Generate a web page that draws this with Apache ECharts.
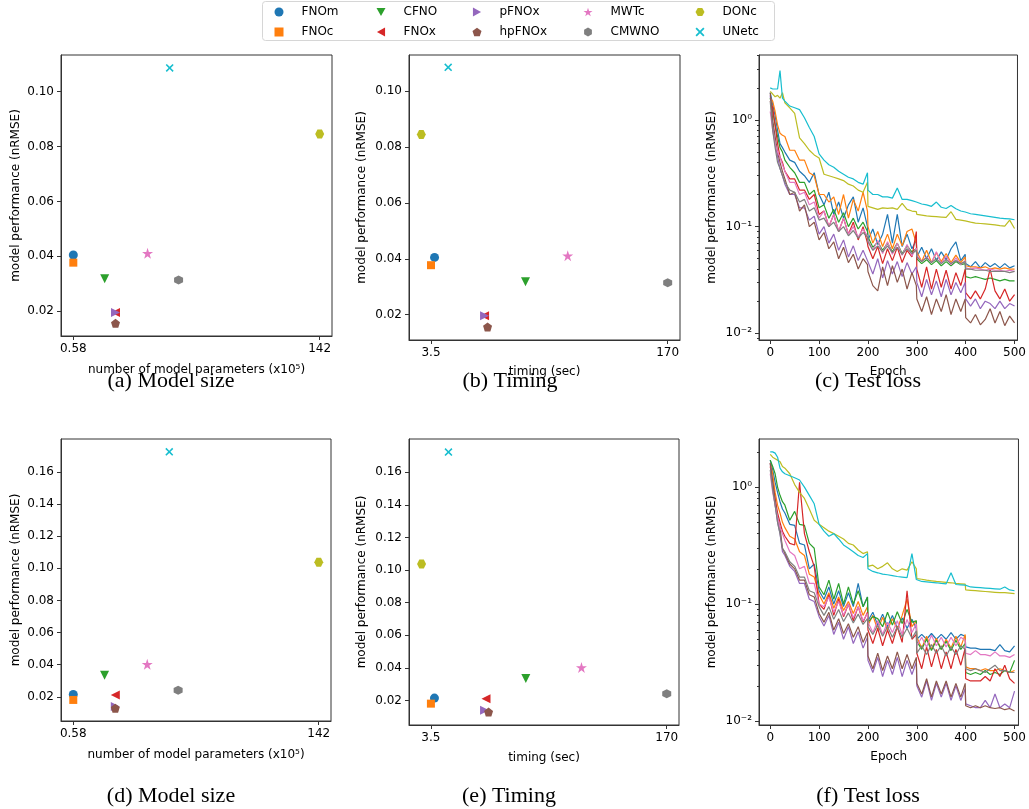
<!DOCTYPE html>
<html>
<head>
<meta charset="utf-8">
<script src="https://cdn.jsdelivr.net/npm/echarts@6/dist/echarts.min.js"></script>
<style>html,body{margin:0;background:#fff}#main{width:1029px;height:809px}</style>
</head>
<body>
<div id="main"></div>
<script>
// models and colours (matplotlib tab10)
const models = ['FNOm', 'FNOc', 'CFNO', 'FNOx', 'pFNOx', 'hpFNOx', 'MWTc', 'CMWNO', 'DONc', 'UNetc'];
const colors = ['#1f77b4', '#ff7f0e', '#2ca02c', '#d62728', '#9467bd', '#8c564b', '#e377c2', '#7f7f7f', '#bcbd22', '#17becf'];

// top row: params (x1e5), timing (sec), nRMSE
const params1 = [0.58, 0.58, 18.6, 24.8, 24.8, 24.8, 43.2, 61.0, 142, 55.9];
const timing1 = [6.0, 3.5, 70.0, 41.2, 41.2, 43.3, 99.7, 170, -3.3, 15.6];
const nrmse1 = [0.0405, 0.0377, 0.0318, 0.0196, 0.0196, 0.0156, 0.0411, 0.0314, 0.0845, 0.1086];
// bottom row
const params2 = [0.58, 0.58, 18.6, 24.8, 24.8, 24.8, 43.2, 61.0, 142, 55.9];
const timing2 = [6.0, 3.5, 70.5, 42.4, 41.4, 44.2, 109.8, 170, -3.1, 15.9];
const nrmse2 = [0.0215, 0.0181, 0.0335, 0.0211, 0.0140, 0.0130, 0.0403, 0.0242, 0.1037, 0.1724];

// tick labels
const paramTicks = [0.58, 142];
const timingTicks = [3.5, 170];
const yTicks1 = [0.02, 0.04, 0.06, 0.08, 0.10];
const yTicks2 = [0.02, 0.04, 0.06, 0.08, 0.10, 0.12, 0.14, 0.16];
const epochTicks = [0, 100, 200, 300, 400, 500];
const logMajor = [0.01, 0.1, 1];
const logMinor = [0.009, 0.02, 0.03, 0.04, 0.05, 0.06, 0.07, 0.08, 0.09, 0.2, 0.3, 0.4, 0.5, 0.6, 0.7, 0.8, 0.9, 2, 3, 4];

// test loss curves, sampled epochs
const epochs = [0,5,10,15,20,25, 30,40,50,60,70,80,90,100,110,120,130,140,150,160,170,180,190, 199,
  200,210,220,230,240,250,260,270,280,290, 299, 300,310,320,330,340,350,360,370,380,390, 399,
  400,410,420,430,440,450,460,470,480,490,500];

// (c)
const c_FNOm = [1.8,1.4,1.1,0.8,0.6,0.55, 0.5,0.42,0.4,0.33,0.3,0.26,0.32,0.2,0.16,0.21,0.13,0.17,0.12,0.16,0.19,0.11,0.15, 0.1,
  0.075,0.095,0.068,0.085,0.13,0.07,0.13,0.065,0.085,0.062, 0.075, 0.052,0.064,0.05,0.062,0.048,0.058,0.049,0.062,0.072,0.048, 0.055,
  0.045,0.042,0.047,0.041,0.046,0.042,0.045,0.041,0.045,0.041,0.043];
const c_FNOc = [1.6,1.5,1.2,0.9,0.75,0.72, 0.7,0.52,0.52,0.42,0.42,0.32,0.3,0.2,0.2,0.17,0.19,0.13,0.2,0.12,0.18,0.14,0.21, 0.14,
  0.1,0.07,0.09,0.065,0.085,0.062,0.085,0.066,0.09,0.095, 0.07, 0.058,0.047,0.06,0.046,0.057,0.047,0.056,0.046,0.054,0.046, 0.052,
  0.043,0.042,0.042,0.041,0.042,0.04,0.041,0.04,0.041,0.04,0.04];
const c_CFNO = [1.6,1.2,0.9,0.7,0.55,0.5, 0.42,0.36,0.32,0.26,0.26,0.2,0.22,0.15,0.16,0.12,0.145,0.11,0.135,0.1,0.12,0.095,0.11, 0.09,
  0.08,0.064,0.072,0.06,0.07,0.058,0.07,0.056,0.066,0.058, 0.062, 0.05,0.045,0.049,0.044,0.048,0.043,0.047,0.043,0.047,0.044, 0.045,
  0.034,0.033,0.034,0.033,0.032,0.033,0.032,0.031,0.032,0.031,0.031];
const c_FNOx = [1.5,1.3,0.9,0.6,0.45,0.4, 0.33,0.28,0.28,0.22,0.22,0.18,0.2,0.13,0.14,0.1,0.13,0.09,0.12,0.085,0.11,0.075,0.1, 0.07,
  0.065,0.05,0.065,0.045,0.062,0.048,0.064,0.046,0.06,0.052, 0.09, 0.04,0.027,0.042,0.026,0.04,0.027,0.039,0.026,0.037,0.028, 0.04,
  0.024,0.021,0.025,0.021,0.026,0.04,0.025,0.021,0.026,0.02,0.023];
const c_pFNOx = [1.7,0.9,0.6,0.45,0.35,0.3, 0.25,0.2,0.2,0.15,0.15,0.115,0.125,0.085,0.1,0.07,0.085,0.06,0.075,0.052,0.066,0.048,0.06, 0.048,
  0.046,0.036,0.05,0.033,0.048,0.036,0.047,0.034,0.046,0.036, 0.042, 0.03,0.022,0.032,0.023,0.031,0.022,0.032,0.023,0.03,0.024, 0.03,
  0.021,0.018,0.021,0.017,0.02,0.019,0.017,0.02,0.017,0.019,0.018];
const c_hpFNOx = [1.8,1.0,0.7,0.5,0.4,0.33, 0.28,0.2,0.21,0.14,0.16,0.1,0.11,0.075,0.088,0.062,0.072,0.05,0.064,0.046,0.055,0.04,0.05, 0.044,
  0.038,0.028,0.025,0.042,0.028,0.043,0.03,0.04,0.026,0.037, 0.028, 0.021,0.016,0.022,0.015,0.021,0.016,0.023,0.015,0.021,0.016, 0.021,
  0.014,0.0125,0.015,0.012,0.0135,0.017,0.0125,0.016,0.0118,0.0145,0.0125];
const c_MWTc = [1.2,0.8,0.6,0.5,0.45,0.38, 0.33,0.26,0.26,0.2,0.21,0.16,0.17,0.12,0.14,0.1,0.13,0.09,0.12,0.085,0.1,0.08,0.095, 0.082,
  0.075,0.06,0.074,0.056,0.072,0.055,0.07,0.054,0.068,0.053, 0.063, 0.054,0.047,0.052,0.046,0.058,0.045,0.053,0.044,0.051,0.044, 0.048,
  0.041,0.04,0.041,0.04,0.039,0.04,0.039,0.039,0.038,0.039,0.038];
const c_CMWNO = [1.5,0.8,0.55,0.4,0.35,0.3, 0.26,0.22,0.21,0.17,0.18,0.14,0.15,0.115,0.12,0.1,0.11,0.09,0.1,0.082,0.092,0.078,0.088, 0.08,
  0.072,0.06,0.066,0.058,0.066,0.057,0.064,0.055,0.062,0.056, 0.06, 0.052,0.047,0.051,0.046,0.05,0.045,0.049,0.045,0.048,0.045, 0.047,
  0.04,0.04,0.039,0.039,0.039,0.038,0.038,0.038,0.038,0.037,0.038];
const c_DONc = [1.85,1.75,1.65,1.7,1.6,1.8, 1.45,1.3,1.15,0.68,0.6,0.52,0.47,0.44,0.31,0.3,0.29,0.28,0.27,0.25,0.24,0.22,0.21, 0.26,
  0.155,0.15,0.145,0.15,0.148,0.15,0.145,0.165,0.145,0.14, 0.138, 0.13,0.128,0.126,0.125,0.124,0.123,0.122,0.138,0.117,0.115, 0.113,
  0.112,0.11,0.108,0.107,0.106,0.105,0.104,0.102,0.101,0.115,0.096];
const c_UNetc = [2.0,1.95,1.95,1.95,2.9,1.6, 1.5,1.35,1.3,1.25,1.05,0.85,0.7,0.48,0.42,0.38,0.36,0.33,0.31,0.29,0.28,0.26,0.25, 0.32,
  0.22,0.2,0.2,0.19,0.19,0.185,0.23,0.18,0.18,0.175, 0.17, 0.166,0.163,0.16,0.155,0.17,0.152,0.148,0.158,0.147,0.14, 0.137,
  0.135,0.132,0.13,0.128,0.126,0.124,0.122,0.12,0.119,0.118,0.116];

// (f)
const f_FNOm = [1.7,1.4,1.1,0.9,0.75,0.65, 0.6,0.48,0.47,0.33,0.32,0.2,0.22,0.13,0.11,0.14,0.1,0.13,0.095,0.125,0.095,0.15,0.095, 0.115,
  0.072,0.085,0.066,0.082,0.064,0.08,0.062,0.076,0.062,0.074, 0.062, 0.05,0.055,0.05,0.056,0.05,0.055,0.05,0.057,0.05,0.055, 0.053,
  0.043,0.042,0.042,0.041,0.041,0.041,0.04,0.045,0.04,0.039,0.044];
const f_FNOc = [1.6,1.3,0.9,0.7,0.6,0.5, 0.45,0.38,0.36,0.28,0.26,0.18,0.17,0.12,0.1,0.125,0.092,0.115,0.088,0.105,0.083,0.105,0.08, 0.095,
  0.066,0.08,0.06,0.077,0.06,0.075,0.061,0.08,0.11,0.064, 0.072, 0.052,0.042,0.053,0.041,0.051,0.041,0.05,0.042,0.053,0.043, 0.055,
  0.029,0.028,0.028,0.027,0.028,0.027,0.027,0.028,0.027,0.026,0.027];
const f_CFNO = [1.7,1.5,1.3,1.0,0.85,0.75, 0.7,0.52,0.62,0.48,0.47,0.33,0.3,0.14,0.12,0.16,0.11,0.15,0.1,0.14,0.1,0.13,0.095, 0.115,
  0.07,0.078,0.075,0.064,0.085,0.066,0.086,0.068,0.09,0.07, 0.072, 0.048,0.041,0.05,0.04,0.049,0.041,0.048,0.04,0.049,0.041, 0.046,
  0.026,0.025,0.026,0.025,0.027,0.025,0.026,0.025,0.027,0.026,0.033];
const f_FNOx = [1.5,1.1,0.8,0.6,0.5,0.42, 0.38,0.33,0.32,1.1,0.4,0.28,0.21,0.1,0.09,0.12,0.08,0.11,0.078,0.1,0.072,0.095,0.07, 0.085,
  0.06,0.046,0.062,0.044,0.06,0.046,0.064,0.047,0.13,0.05, 0.055, 0.038,0.028,0.043,0.029,0.041,0.028,0.039,0.028,0.041,0.03, 0.042,
  0.023,0.022,0.022,0.022,0.024,0.022,0.028,0.024,0.03,0.023,0.021];
const f_pFNOx = [1.6,1.0,0.7,0.5,0.4,0.28, 0.26,0.21,0.19,0.15,0.15,0.11,0.105,0.078,0.065,0.08,0.055,0.07,0.05,0.064,0.046,0.058,0.042, 0.052,
  0.033,0.026,0.035,0.024,0.033,0.025,0.035,0.024,0.033,0.025, 0.032, 0.02,0.016,0.022,0.015,0.021,0.016,0.021,0.015,0.02,0.015, 0.019,
  0.014,0.0135,0.013,0.013,0.015,0.013,0.017,0.013,0.014,0.013,0.018];
const f_hpFNOx = [1.6,1.1,0.75,0.55,0.45,0.3, 0.27,0.22,0.2,0.16,0.16,0.12,0.115,0.083,0.07,0.085,0.06,0.075,0.056,0.068,0.052,0.064,0.047, 0.057,
  0.036,0.028,0.038,0.027,0.036,0.028,0.039,0.028,0.037,0.028, 0.035, 0.021,0.017,0.023,0.016,0.022,0.017,0.022,0.016,0.021,0.016, 0.021,
  0.0135,0.013,0.0135,0.013,0.0135,0.013,0.0128,0.013,0.0125,0.0128,0.0122];
const f_MWTc = [1.3,0.9,0.7,0.55,0.45,0.4, 0.35,0.28,0.26,0.2,0.21,0.15,0.15,0.1,0.095,0.115,0.085,0.105,0.08,0.1,0.076,0.095,0.072, 0.083,
  0.07,0.057,0.072,0.055,0.07,0.057,0.072,0.055,0.074,0.057, 0.068, 0.044,0.052,0.043,0.054,0.044,0.052,0.043,0.052,0.044,0.052, 0.049,
  0.038,0.037,0.04,0.037,0.037,0.036,0.039,0.036,0.036,0.035,0.037];
const f_CMWNO = [1.4,0.95,0.7,0.5,0.4,0.3, 0.28,0.23,0.21,0.17,0.17,0.13,0.125,0.095,0.08,0.095,0.074,0.09,0.071,0.084,0.069,0.082,0.067, 0.075,
  0.064,0.055,0.066,0.053,0.064,0.052,0.064,0.052,0.062,0.051, 0.059, 0.038,0.044,0.037,0.045,0.038,0.044,0.036,0.043,0.037,0.044, 0.041,
  0.028,0.027,0.028,0.027,0.026,0.028,0.03,0.027,0.027,0.026,0.026];
const f_DONc = [1.9,1.8,1.75,1.7,1.65,1.5, 1.45,1.3,1.05,0.9,0.8,0.65,0.52,0.48,0.45,0.42,0.4,0.38,0.36,0.33,0.32,0.29,0.27, 0.28,
  0.21,0.215,0.2,0.21,0.225,0.2,0.19,0.2,0.195,0.23, 0.2, 0.165,0.163,0.16,0.158,0.156,0.155,0.153,0.152,0.15,0.149, 0.148,
  0.132,0.131,0.13,0.129,0.128,0.127,0.126,0.125,0.125,0.124,0.123];
const f_UNetc = [2.0,2.0,1.95,1.8,1.45,1.35, 1.3,1.25,1.2,1.15,1.0,0.85,0.72,0.48,0.42,0.38,0.4,0.36,0.32,0.3,0.28,0.26,0.25, 0.27,
  0.2,0.19,0.185,0.18,0.178,0.175,0.172,0.17,0.168,0.27, 0.162, 0.158,0.156,0.155,0.153,0.152,0.15,0.149,0.185,0.147,0.146, 0.145,
  0.142,0.14,0.139,0.138,0.137,0.136,0.135,0.134,0.14,0.132,0.13];

const lossC = [c_FNOm, c_FNOc, c_CFNO, c_FNOx, c_pFNOx, c_hpFNOx, c_MWTc, c_CMWNO, c_DONc, c_UNetc];
const lossF = [f_FNOm, f_FNOc, f_CFNO, f_FNOx, f_pFNOx, f_hpFNOx, f_MWTc, f_CMWNO, f_DONc, f_UNetc];

// marker shapes
const symbols = [
  'circle',
  'path://M-1,-1L1,-1L1,1L-1,1Z',
  'path://M-1,-0.9L1,-0.9L0,0.9Z',
  'path://M-0.9,0L0.9,-1L0.9,1Z',
  'path://M0.9,0L-0.9,-1L-0.9,1Z',
  'path://M0,-1L0.951,-0.309L0.588,0.809L-0.588,0.809L-0.951,-0.309Z',
  'path://M0,-1L0.2245,-0.309L0.951,-0.309L0.363,0.118L0.588,0.809L0,0.382L-0.588,0.809L-0.363,0.118L-0.951,-0.309L-0.2245,-0.309Z',
  'path://M0,-1L0.866,-0.5L0.866,0.5L0,1L-0.866,0.5L-0.866,-0.5Z',
  'path://M-1,0L-0.5,-0.866L0.5,-0.866L1,0L0.5,0.866L-0.5,0.866Z',
  'path://M-1,-0.72L-0.72,-1L0,-0.28L0.72,-1L1,-0.72L0.28,0L1,0.72L0.72,1L0,0.28L-0.72,1L-1,0.72L-0.28,0Z'
];
const symSizes = [9, 8, 9, 9, 9, 9, 11, 9, 9, 8];

const FONT = 'DejaVu Sans';
const txt = {fontFamily: FONT, fontSize: 12, color: '#000'};

const grids = [
  {left: 61, top: 55, width: 271, height: 281},
  {left: 409, top: 55, width: 271, height: 285},
  {left: 759, top: 55, width: 260, height: 285},
  {left: 61, top: 439, width: 270, height: 282},
  {left: 409, top: 439, width: 270, height: 286},
  {left: 759, top: 439, width: 261, height: 286}
].map(g => Object.assign({show: true, borderColor: '#333', borderWidth: 1, containLabel: false}, g));

function fmt(v) { return String(Math.round(v * 100) / 100); }

function xAxisOf(gi, min, max, ticks, name, gap, formatter) {
  return {
    type: 'value', gridIndex: gi, min: min, max: max,
    name: name, nameLocation: 'middle', nameGap: gap, nameTextStyle: txt,
    axisLine: {show: true, onZero: false, lineStyle: {color: '#333'}},
    splitLine: {show: false},
    axisTick: {show: true, customValues: ticks, length: 4, lineStyle: {color: '#333'}},
    axisLabel: Object.assign({customValues: ticks, margin: 7, formatter: formatter || fmt}, txt)
  };
}
function yAxisOf(gi, min, max, ticks, gap, formatter) {
  return {
    type: 'value', gridIndex: gi, min: min, max: max,
    name: 'model performance (nRMSE)', nameLocation: 'middle', nameGap: gap, nameRotate: 90, nameTextStyle: txt,
    axisLine: {show: true, onZero: false, lineStyle: {color: '#333'}},
    splitLine: {show: false},
    axisTick: {show: true, customValues: ticks, length: 4, lineStyle: {color: '#333'}},
    axisLabel: Object.assign({customValues: ticks, margin: 7, formatter: formatter || (v => v.toFixed(2))}, txt)
  };
}
const supMap = {'-2': '10\u207B\u00B2', '-1': '10\u207B\u00B9', '0': '10\u2070'};
function minorAxis(gi, min, max) {
  return {
    type: 'value', gridIndex: gi, min: min, max: max, position: 'left',
    axisLine: {show: false, onZero: false}, splitLine: {show: false}, axisLabel: {show: false},
    axisTick: {show: true, customValues: logMinor.map(v => Math.log10(v)), length: 2, lineStyle: {color: '#333'}}
  };
}

const xAxes = [
  xAxisOf(0, -6.49, 149.07, paramTicks, 'number of model parameters (x10\u2075)', 28),
  xAxisOf(1, -11.97, 178.67, timingTicks, 'timing (sec)', 26),
  xAxisOf(2, -23, 506, epochTicks, 'Epoch', 26),
  xAxisOf(3, -6.49, 149.07, paramTicks, 'number of model parameters (x10\u2075)', 28),
  xAxisOf(4, -11.97, 178.67, timingTicks, 'timing (sec)', 27),
  xAxisOf(5, -23, 508, epochTicks, 'Epoch', 26)
];
const logFmt = v => supMap[String(Math.round(v))];
const yAxes = [
  yAxisOf(0, 0.0110, 0.1133, yTicks1, 39),
  yAxisOf(1, 0.0109, 0.1130, yTicks1, 41),
  yAxisOf(2, -2.063, 0.609, logMajor.map(v => Math.log10(v)), 41, logFmt),
  yAxisOf(3, 0.0050, 0.1804, yTicks2, 39),
  yAxisOf(4, 0.0050, 0.1804, yTicks2, 41),
  yAxisOf(5, -2.034, 0.411, logMajor.map(v => Math.log10(v)), 41, logFmt),
  minorAxis(2, -2.063, 0.609),
  minorAxis(5, -2.034, 0.411)
];

const series = [];
const scatterSets = [
  [0, params1, nrmse1], [1, timing1, nrmse1],
  [3, params2, nrmse2], [4, timing2, nrmse2]
];
scatterSets.forEach(([ax, xs, ys]) => {
  models.forEach((m, i) => {
    series.push({
      type: 'scatter', name: m, xAxisIndex: ax, yAxisIndex: ax,
      symbol: symbols[i], symbolSize: symSizes[i],
      itemStyle: {color: colors[i], opacity: 1},
      data: [[xs[i], ys[i]]], z: 2 + i * 0.01
    });
  });
});
[[2, lossC], [5, lossF]].forEach(([ax, set]) => {
  models.forEach((m, i) => {
    series.push({
      type: 'line', name: m, xAxisIndex: ax, yAxisIndex: ax,
      showSymbol: false, symbol: 'none', smooth: false,
      lineStyle: {color: colors[i], width: 1.2},
      itemStyle: {color: colors[i]},
      data: epochs.map((e, k) => [e, Math.log10(set[i][k])])
    });
  });
});

const legendCols = [[0, 1], [2, 3], [4, 5], [6, 7], [8, 9]];
const legendX = [279, 381, 477, 588, 700];
const legends = legendCols.map((col, c) => ({
  orient: 'vertical', left: legendX[c] - 9.5, top: 0, z: 10, padding: 5,
  itemWidth: 9, itemHeight: 9, itemGap: 6, selectedMode: false,
  textStyle: Object.assign({lineHeight: 14, padding: [0, 0, 0, 13]}, txt),
  data: col.map(i => ({name: models[i], icon: symbols[i], itemStyle: {color: colors[i]}}))
}));

const captions = [
  ['(a) Model size', 171, 381], ['(b) Timing', 510, 381], ['(c) Test loss', 868, 381],
  ['(d) Model size', 171, 796], ['(e) Timing', 509, 796], ['(f) Test loss', 868, 796]
];

const chart = echarts.init(document.getElementById('main'), null, {renderer: 'canvas'});
chart.setOption({
  animation: false,
  backgroundColor: '#fff',
  textStyle: {fontFamily: FONT},
  grid: grids,
  xAxis: xAxes,
  yAxis: yAxes,
  legend: legends,
  series: series,
  graphic: [
    {type: 'rect', z: 0, shape: {x: 262.5, y: 1.5, width: 512, height: 39, r: 3},
     style: {fill: '#fff', stroke: '#d6d6d6', lineWidth: 1}}
  ].concat(captions.map(([t, x, y]) => ({
    type: 'text', z: 5, x: x, y: y,
    style: {text: t, font: '22px "Liberation Serif"', fill: '#000', textAlign: 'center', textVerticalAlign: 'middle'}
  })))
});
</script>
</body>
</html>
